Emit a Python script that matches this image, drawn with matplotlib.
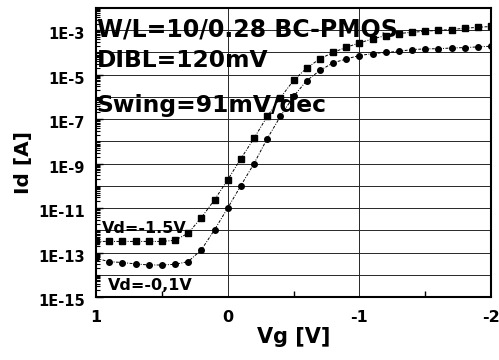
import numpy as np
import matplotlib
matplotlib.use("Agg")
import matplotlib.pyplot as plt
from matplotlib.ticker import FixedLocator, LogLocator, NullFormatter
from matplotlib.transforms import ScaledTranslation

# ---- data (Vg in volts, drain current exponents log10(Id/A)) ----
vg = [1.0, 0.9, 0.8, 0.7, 0.6, 0.5, 0.4, 0.3, 0.2, 0.1, 0.0,
      -0.1, -0.2, -0.3, -0.4, -0.5, -0.6, -0.7, -0.8, -0.9, -1.0,
      -1.1, -1.2, -1.3, -1.4, -1.5, -1.6, -1.7, -1.8, -1.9, -2.0]

log_id_vd15 = [-12.50, -12.50, -12.50, -12.50, -12.50, -12.50, -12.45, -12.13,
               -11.43, -10.63, -9.73, -8.78, -7.86, -6.88, -6.04, -5.26,
               -4.70, -4.29, -4.00, -3.77, -3.57, -3.39, -3.24, -3.15,
               -3.09, -3.05, -3.00, -2.97, -2.91, -2.87, -2.83]

log_id_vd01 = [-13.26, -13.41, -13.45, -13.51, -13.56, -13.56, -13.53, -13.41,
               -12.88, -11.98, -11.00, -9.99, -9.00, -7.88, -6.88, -5.98,
               -5.27, -4.81, -4.47, -4.29, -4.14, -4.05, -4.00, -3.95,
               -3.87, -3.84, -3.83, -3.80, -3.78, -3.75, -3.72]

ytick_labels = ["1E-3", "1E-5", "1E-7", "1E-9", "1E-11", "1E-13", "1E-15"]
ytick_values = [1e-3, 1e-5, 1e-7, 1e-9, 1e-11, 1e-13, 1e-15]
xtick_values = [1, 0, -1, -2]
xtick_labels = ["1", "0", "-1", "-2"]

id_vd15 = np.power(10.0, log_id_vd15)
id_vd01 = np.power(10.0, log_id_vd01)

plt.rcParams['font.family'] = ['DejaVu Sans']
plt.rcParams['font.weight'] = 'bold'

fig = plt.figure(figsize=(4.99, 3.60), dpi=100)
ax = fig.add_axes([96/499, 1-297/360, (491-96)/499, (297-8)/360])

ls = (0, (3, 1.5, 1, 1.5))
ax.plot(vg, id_vd15, linestyle=ls, color='black', lw=0.7,
        marker='s', ms=3.8, mfc='black', mec='black', zorder=3)
ax.plot(vg, id_vd01, linestyle=ls, color='black', lw=0.7,
        marker='o', ms=4.0, mfc='black', mec='black', zorder=3)

ax.set_yscale('log')
ax.set_ylim(1e-15, 1e-2)
ax.set_xlim(1, -2)

# grid: every decade horizontally, integer volts vertically
for e in range(-14, -2):
    ax.axhline(10.0**e, color='0.15', lw=0.7, zorder=1)
for v in [0, -1]:
    ax.axvline(v, color='0.15', lw=0.7, zorder=1)

ax.yaxis.set_major_locator(FixedLocator(ytick_values))
ax.set_yticklabels(ytick_labels, fontsize=10.5, fontweight='bold')
ax.yaxis.set_minor_locator(LogLocator(base=10, subs=np.arange(1, 10), numticks=40))
ax.yaxis.set_minor_formatter(NullFormatter())
ax.tick_params(axis='y', which='major', direction='in', length=5, width=1, pad=8)
ax.tick_params(axis='y', which='minor', direction='in', length=3, width=0.8)

ax.set_xticks(xtick_values)
ax.set_xticklabels(xtick_labels, fontsize=11.5, fontweight='bold')
ax.set_xticks([0.5, -0.5, -1.5], minor=True)
ax.tick_params(axis='x', which='major', direction='in', length=0, pad=9)
ax.tick_params(axis='x', which='minor', direction='in', length=4, width=1)

for lbl in ax.get_yticklabels():
    lbl.set_transform(lbl.get_transform() + ScaledTranslation(0, -3/100, fig.dpi_scale_trans))

for s in ax.spines.values():
    s.set_linewidth(1.5)

ax.set_xlabel("Vg [V]", fontsize=15, fontweight='bold', labelpad=2)
fig.text(24/499, 1-162.5/360, "Id [A]", rotation=90, fontsize=14.5,
         fontweight='bold', ha='center', va='center')

tkw = dict(transform=ax.transAxes, fontweight='bold', va='baseline', ha='left', zorder=4)
ax.text(0.003, 0.900, "W/L=10/0.28 BC-PMOS", fontsize=17, **tkw)
ax.text(0.002, 0.795, "DIBL=120mV", fontsize=16.8, **tkw)
ax.text(0.002, 0.641, "Swing=91mV/dec", fontsize=16.8, **tkw)
ax.text(0.015, 0.221, "Vd=-1.5V", fontsize=11.5, **tkw)
ax.text(0.030, 0.024, "Vd=-0,1V", fontsize=11.5, **tkw)

fig.savefig("out.png", dpi=100)
